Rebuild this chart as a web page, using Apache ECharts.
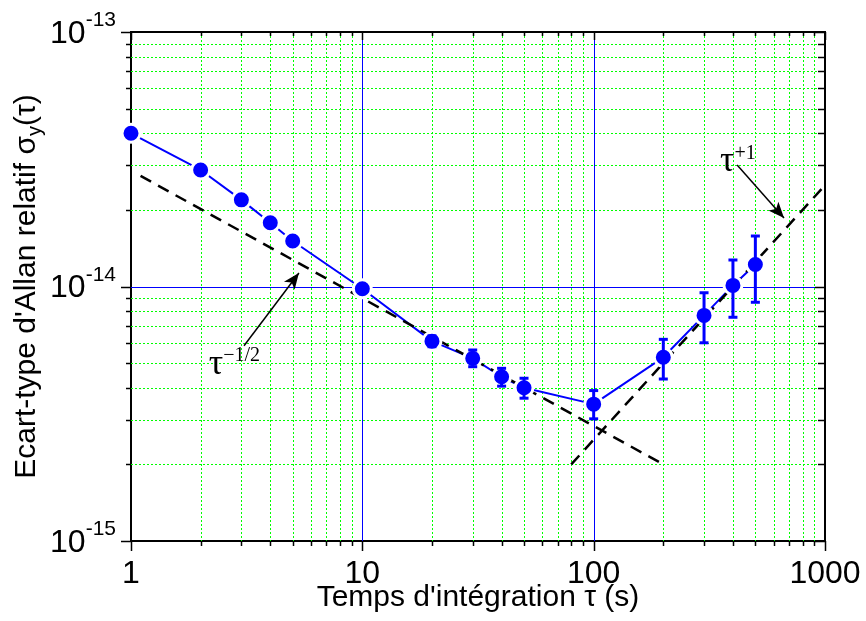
<!DOCTYPE html>
<html>
<head>
<meta charset="utf-8">
<script src="https://cdn.jsdelivr.net/npm/echarts@6/dist/echarts.min.js"></script>
<style>html,body{margin:0;padding:0;background:#fff;}#c{width:866px;height:621px;}</style>
</head>
<body>
<div id="c"></div>
<script>
// ---- data ----
const tau   = [1, 2, 3, 4, 5, 10, 20, 30, 40, 50, 100, 200, 300, 400, 500];
const sigma = [4.0e-14, 2.87e-14, 2.19e-14, 1.78e-14, 1.51e-14, 9.8e-15, 6.1e-15, 5.22e-15, 4.42e-15, 4.0e-15, 3.45e-15, 5.27e-15, 7.7e-15, 1.01e-14, 1.22e-14];
const errTau  = [20, 30, 40, 50, 100, 200, 300, 400, 500];
const errLow  = [5.8e-15, 4.84e-15, 4.06e-15, 3.64e-15, 3.02e-15, 4.33e-15, 6.01e-15, 7.57e-15, 8.67e-15];
const errHigh = [6.4e-15, 5.63e-15, 4.77e-15, 4.36e-15, 3.90e-15, 6.20e-15, 9.45e-15, 1.271e-14, 1.579e-14];
const halfX = [1.1, 200];
const halfY = [2.72e-14, 2.0e-15];
const oneX  = [80, 1000];
const oneY  = [2.0e-15, 2.5e-14];
const xMajorGrid = [10, 100];
const yMajorGrid = [1e-14];
const xMajor = [1, 10, 100, 1000];
const yMajor = [1e-15, 1e-14, 1e-13];
const xMinor = [2,3,4,5,6,7,8,9,20,30,40,50,60,70,80,90,200,300,400,500,600,700,800,900];
const yMinor = [2e-15,3e-15,4e-15,5e-15,6e-15,7e-15,8e-15,9e-15,2e-14,3e-14,4e-14,5e-14,6e-14,7e-14,8e-14,9e-14];
const xMin = 1, xMax = 1000, yMin = 1e-15, yMax = 1e-13;

const chart = echarts.init(document.getElementById('c'), null, {renderer: 'canvas'});

function renderGrid(params, api) {
  const cs = params.coordSys;
  const L = cs.x, R = cs.x + cs.width, T = cs.y, B = cs.y + cs.height;
  const ch = [];
  const ln = (x1, y1, x2, y2, kind) => {
    let style;
    if (kind === 'g') style = {stroke: '#00ff00', lineWidth: 1, lineDash: [2, 2], fill: null};
    else if (kind === 'b') style = {stroke: '#0000ff', lineWidth: 1, fill: null};
    else style = {stroke: '#000000', lineWidth: 1.5, fill: null};
    ch.push({type: 'line', shape: {x1, y1, x2, y2}, style});
  };
  xMinor.forEach(v => {
    const px = Math.round(api.coord([v, yMin])[0]) + 0.5;
    ln(px, T, px, B, 'g');
    ln(px, B, px, B + 5, 't');
    ln(px, T, px, T + 4, 't');
  });
  yMinor.forEach(v => {
    const py = Math.round(api.coord([xMin, v])[1]) + 0.5;
    ln(L, py, R, py, 'g');
    ln(L - 5, py, L, py, 't');
    ln(R - 7, py, R, py, 't');
  });
  xMajorGrid.forEach(v => {
    const px = Math.round(api.coord([v, yMin])[0]) + 0.5;
    ln(px, T, px, B, 'b');
  });
  yMajorGrid.forEach(v => {
    const py = Math.round(api.coord([xMin, v])[1]) + 0.5;
    ln(L, py, R, py, 'b');
  });
  xMajor.forEach(v => {
    const px = Math.round(api.coord([v, yMin])[0]) + 0.5;
    ln(px, B, px, B + 10, 't');
    ln(px, T, px, T + 8, 't');
  });
  yMajor.forEach(v => {
    const py = Math.round(api.coord([xMin, v])[1]) + 0.5;
    ln(L - 10, py, L, py, 't');
    ln(R - 10, py, R, py, 't');
  });
  return {type: 'group', children: ch};
}

function renderErr(params, api) {
  const x = api.value(0), lo = api.value(1), hi = api.value(2);
  const p1 = api.coord([x, lo]), p2 = api.coord([x, hi]);
  const w = 4.5;
  const st = () => ({stroke: '#0000ff', lineWidth: 3, fill: null});
  return {type: 'group', children: [
    {type: 'line', shape: {x1: p1[0], y1: p1[1], x2: p2[0], y2: p2[1]}, style: st()},
    {type: 'line', shape: {x1: p1[0] - w, y1: p1[1], x2: p1[0] + w, y2: p1[1]}, style: st()},
    {type: 'line', shape: {x1: p2[0] - w, y1: p2[1], x2: p2[0] + w, y2: p2[1]}, style: st()}
  ]};
}

const font = '"Liberation Sans", Arial, sans-serif';
const serif = '"Liberation Serif", "Times New Roman", serif';

const option = {
  animation: false,
  backgroundColor: '#fff',
  grid: {left: 131, right: 41, top: 32, bottom: 80, containLabel: false, outerBoundsMode: 'none',
    show: true, borderColor: '#000', borderWidth: 2, backgroundColor: 'transparent'},
  xAxis: {
    type: 'log', logBase: 10, min: xMin, max: xMax,
    name: "Temps d'intégration τ (s)", nameLocation: 'middle', nameGap: 42, nameMoveOverlap: false,
    nameTextStyle: {fontFamily: font, fontSize: 30, color: '#000'},
    axisLine: {show: false}, axisTick: {show: false}, splitLine: {show: false},
    axisLabel: {fontFamily: font, fontSize: 32, color: '#000', margin: 17,
      formatter: v => String(Math.round(v))}
  },
  yAxis: {
    type: 'log', logBase: 10, min: yMin, max: yMax,
    name: 'Ecart-type d\'Allan relatif σ{sub|y}(τ)', nameLocation: 'middle', nameGap: 86, nameMoveOverlap: false,
    nameTextStyle: {fontFamily: font, fontSize: 30, color: '#000',
      rich: {sub: {fontFamily: font, fontSize: 20, color: '#000', padding: [16, 0, 0, 0]}}},
    axisLine: {show: false}, axisTick: {show: false}, splitLine: {show: false},
    axisLabel: {margin: 15, padding: [4, 0, 0, 0],
      formatter: v => '{b|10}{s|' + Math.round(Math.log10(v)) + '}',
      rich: {
        b: {fontFamily: font, fontSize: 32, color: '#000', lineHeight: 48},
        s: {fontFamily: font, fontSize: 21, color: '#000', lineHeight: 22, verticalAlign: 'top'}
      }}
  },
  series: [
    {type: 'custom', renderItem: renderGrid, data: [[1, 1e-14]], clip: false, silent: true, z: 1},
    {type: 'line', data: tau.map((t, i) => [t, sigma[i]]), showSymbol: false, symbol: 'none',
      lineStyle: {color: '#0000ff', width: 2}, z: 3},
    {type: 'line', data: halfX.map((t, i) => [t, halfY[i]]), symbol: 'none',
      lineStyle: {color: '#000', width: 2.5, type: [12, 8]}, z: 4,
      markLine: {silent: true, symbol: ['none', 'arrow'], symbolSize: [10, 16],
        lineStyle: {color: '#000', width: 1.5, type: 'solid'}, label: {show: false},
        data: [
          [{coord: [3.08, 5.85e-15]}, {coord: [5.32, 1.13e-14]}],
          [{coord: [417, 3.0e-14]}, {coord: [665, 1.858e-14]}]
        ]},
      markPoint: {silent: true, symbol: 'circle', symbolSize: 1, itemStyle: {color: 'transparent'},
        label: {show: true, position: 'inside', fontFamily: serif, color: '#000',
          formatter: p => p.name,
          rich: {t: {fontFamily: serif, fontSize: 36, color: '#000'},
                 s: {fontFamily: serif, fontSize: 20, color: '#000', verticalAlign: 'top'}}},
        data: [
          {name: '{t|τ}{s|−1/2}', coord: [2.8, 4.95e-15]},
          {name: '{t|τ}{s|+1}', coord: [420, 3.1e-14]}
        ]}
    },
    {type: 'line', data: oneX.map((t, i) => [t, oneY[i]]), symbol: 'none',
      lineStyle: {color: '#000', width: 2.5, type: [12, 8]}, z: 4},
    {type: 'scatter', data: tau.map((t, i) => [t, sigma[i]]), symbol: 'circle', symbolSize: 18,
      itemStyle: {color: '#0000ff', borderColor: '#fff', borderWidth: 3, opacity: 1}, z: 5},
    {type: 'custom', renderItem: renderErr, data: errTau.map((t, i) => [t, errLow[i], errHigh[i]]), z: 6}
  ]
};
chart.setOption(option);
</script>
</body>
</html>
